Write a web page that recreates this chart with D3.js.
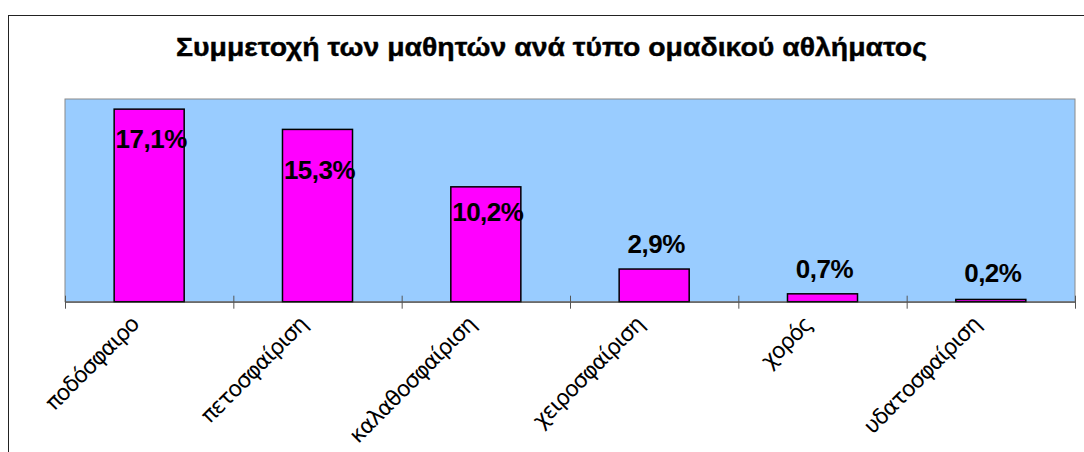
<!DOCTYPE html>
<html>
  <head>
    <meta charset="utf-8">
    <title>Συμμετοχή των μαθητών</title>
    <script src="https://d3js.org/d3.v7.min.js"></script>
    <style>
      body {
        margin: 0;
        background: #fff;
      }
      svg {
        display: block;
      }
    </style>
  </head>
  <body>
    <script>
      const title = 'Συμμετοχή των μαθητών ανά τύπο ομαδικού αθλήματος';
      const categories = ['ποδόσφαιρο', 'πετοσφαίριση', 'καλαθοσφαίριση', 'χειροσφαίριση', 'χορός', 'υδατοσφαίριση'];
      const values = [17.1, 15.3, 10.2, 2.9, 0.7, 0.2];
      // where each value label sits, relative to its bar top (px)
      const labelShift = [39, 50, 34, -16, -16, -17];

      const w = 1084;
      const h = 452;
      const plot = {left: 65, top: 99, right: 1075, bottom: 301.7};

      const formatPct = v => v.toFixed(1).replace('.', ',') + '%';

      const xScale = d3.scaleBand()
                       .domain(categories)
                       .range([plot.left, plot.right])
                       .padding(0);

      const yScale = d3.scaleLinear()
                       .domain([0, 18])
                       .range([plot.bottom, plot.top]);

      const barWidth = xScale.bandwidth() * 0.416;

      const svg = d3.select('body')
                    .append('svg')
                    .attr('width', w)
                    .attr('height', h);

      // chart frame (right and bottom edges fall outside the picture)
      svg.append('rect')
         .attr('x', 8.5)
         .attr('y', 15.5)
         .attr('width', w)
         .attr('height', h)
         .attr('fill', '#fff')
         .attr('stroke', '#222')
         .attr('stroke-width', 1);

      svg.append('text')
         .attr('x', 551.5)
         .attr('y', 56)
         .attr('text-anchor', 'middle')
         .attr('font-family', '"Liberation Sans", Arial, sans-serif')
         .attr('font-weight', 'bold')
         .attr('font-size', 25)
         .attr('stroke', '#000')
         .attr('stroke-width', 0.4)
         .attr('textLength', 751)
         .attr('lengthAdjust', 'spacingAndGlyphs')
         .text(title);

      svg.append('rect')
         .attr('x', plot.left)
         .attr('y', plot.top)
         .attr('width', plot.right - plot.left)
         .attr('height', plot.bottom - plot.top)
         .attr('fill', '#99ccff')
         .attr('stroke', '#8a8a8a')
         .attr('stroke-width', 1);

      svg.selectAll('rect.bar')
         .data(values)
         .enter()
         .append('rect')
         .attr('class', 'bar')
         .attr('x', (d, i) => xScale(categories[i]) + (xScale.bandwidth() - barWidth) / 2)
         .attr('y', d => yScale(d))
         .attr('width', barWidth)
         .attr('height', d => yScale(0) - yScale(d))
         .attr('fill', '#ff00ff')
         .attr('stroke', '#000')
         .attr('stroke-width', 1.5);

      // the long category names get cut just under the axis, as in the original
      svg.append('clipPath')
         .attr('id', 'label-clip')
         .append('rect')
         .attr('x', 0)
         .attr('y', plot.bottom + 17)
         .attr('width', w)
         .attr('height', h);

      const xAxis = d3.axisBottom(xScale)
                      .tickSize(0)
                      .tickPadding(0);

      const gx = svg.append('g')
                    .attr('id', 'x-axis')
                    .attr('clip-path', 'url(#label-clip)')
                    .append('g')
                    .attr('transform', `translate(0, ${plot.bottom})`)
                    .call(xAxis);

      gx.select('.domain').remove();

      gx.selectAll('.tick text')
        .attr('font-family', '"DejaVu Sans", Verdana, sans-serif')
        .attr('font-size', 22)
        .attr('letter-spacing', -1)
        .attr('fill', '#000')
        .attr('text-anchor', 'end')
        .attr('dy', 0)
        .attr('transform', 'translate(-9, 24) rotate(-45)');

      // axis line and the ticks at the category boundaries
      svg.append('line')
         .attr('x1', plot.left)
         .attr('x2', plot.right)
         .attr('y1', plot.bottom + 0.5)
         .attr('y2', plot.bottom + 0.5)
         .attr('stroke', '#333')
         .attr('stroke-width', 1);

      const boundaries = categories.map(c => xScale(c)).concat([plot.right]);

      svg.append('g')
         .selectAll('line')
         .data(boundaries)
         .enter()
         .append('line')
         .attr('x1', d => d + 0.5)
         .attr('x2', d => d + 0.5)
         .attr('y1', plot.bottom - 6)
         .attr('y2', plot.bottom + 7)
         .attr('stroke', '#555')
         .attr('stroke-width', 1);

      svg.selectAll('text.value')
         .data(values)
         .enter()
         .append('text')
         .attr('class', 'value')
         .attr('x', (d, i) => xScale(categories[i]) + xScale.bandwidth() / 2 + 2)
         .attr('y', (d, i) => yScale(d) + labelShift[i])
         .attr('text-anchor', 'middle')
         .attr('font-family', '"Liberation Sans", Arial, sans-serif')
         .attr('font-weight', 'bold')
         .attr('font-size', 26)
         .attr('letter-spacing', -0.5)
         .attr('fill', '#000')
         .text(d => formatPct(d));
    </script>
  </body>
</html>
